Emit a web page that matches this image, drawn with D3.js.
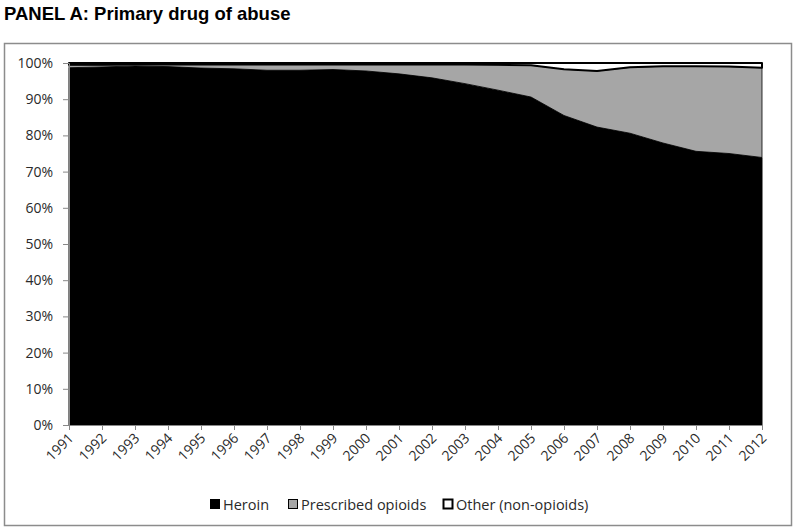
<!DOCTYPE html>
<html>
<head>
<meta charset="utf-8">
<script src="https://cdn.jsdelivr.net/npm/d3@7"></script>
<style>
  body { margin: 0; background: #fff; }
  svg { display: block; }
</style>
</head>
<body>
<svg width="800" height="530"></svg>
<script>
var years   = [1991, 1992, 1993, 1994, 1995, 1996, 1997, 1998, 1999, 2000, 2001,
               2002, 2003, 2004, 2005, 2006, 2007, 2008, 2009, 2010, 2011, 2012];
var heroin  = [98.7, 98.9, 99.2, 99.0, 98.6, 98.4, 98.0, 98.0, 98.2, 97.8, 97.0,
               95.9, 94.3, 92.5, 90.6, 85.5, 82.3, 80.6, 77.9, 75.6, 75.0, 73.9];
var other   = [0.5, 0.5, 0.4, 0.4, 0.4, 0.4, 0.4, 0.4, 0.4, 0.4, 0.4,
               0.4, 0.4, 0.5, 0.6, 1.7, 2.2, 1.2, 0.9, 0.9, 1.0, 1.3];
var opioids = heroin.map(function(h, i) { return 100 - h - other[i]; });
var yTicks  = [0, 10, 20, 30, 40, 50, 60, 70, 80, 90, 100];
var seriesNames = ['Heroin', 'Prescribed opioids', 'Other (non-opioids)'];
var colors  = ['#000000', '#a6a6a6', '#ffffff'];

var svg = d3.select('svg');

svg.append('text')
   .attr('x', 4).attr('y', 20)
   .style('font-family', 'Liberation Sans, Arial, sans-serif')
   .style('font-weight', 'bold')
   .style('font-size', '18.5px')
   .text('PANEL A: Primary drug of abuse');

svg.append('rect')
   .attr('x', 4.5).attr('y', 43.5)
   .attr('width', 787).attr('height', 482)
   .attr('fill', 'none').attr('stroke', '#8c8c8c').attr('stroke-width', 1.5);

var x = d3.scaleLinear().domain([1991, 2012]).range([69, 762]);
var y = d3.scaleLinear().domain([0, 100]).range([425, 63]);

var table = years.map(function(yr, i) {
  return { year: yr, heroin: heroin[i], opioids: opioids[i], other: other[i] };
});
var stack = d3.stack().keys(['heroin', 'opioids', 'other'])(table);

var area = d3.area()
  .x(function(d) { return x(d.data.year); })
  .y0(function(d) { return y(d[0]); })
  .y1(function(d) { return y(d[1]); });

var widths  = [1, 0.8, 2];
svg.selectAll('path.layer')
   .data(stack)
   .enter()
   .append('path')
   .attr('class', 'layer')
   .attr('d', area)
   .attr('fill', function(d, i) { return colors[i]; })
   .attr('stroke', '#000')
   .attr('stroke-width', function(d, i) { return widths[i]; })
   .attr('stroke-linejoin', 'round');

var tickFont = 'Open Sans, Lato, sans-serif';

var yAxis = svg.append('g')
   .attr('transform', 'translate(69,0)')
   .call(d3.axisLeft(y).tickValues(yTicks).tickSize(6).tickPadding(10)
         .tickFormat(function(d) { return d + '%'; }));
yAxis.select('.domain').attr('stroke', '#888');
yAxis.selectAll('line').attr('stroke', '#888');
yAxis.selectAll('text')
     .style('font-family', tickFont).style('font-size', '14px').attr('fill', '#2a2a2a');

var xAxis = svg.append('g')
   .attr('transform', 'translate(0,425)')
   .call(d3.axisBottom(x).tickValues(years).tickSize(5)
         .tickFormat(d3.format('d')));
xAxis.select('.domain').attr('stroke', '#888');
xAxis.selectAll('line').attr('stroke', '#888');
xAxis.selectAll('text')
     .style('font-family', tickFont).style('font-size', '14px').attr('fill', '#2a2a2a')
     .attr('text-anchor', 'end')
     .attr('dy', null).attr('y', 0)
     .attr('transform', 'translate(5,14) rotate(-45)');

var legendX = [210, 288, 443];
var legend = svg.selectAll('g.legend')
   .data(seriesNames)
   .enter()
   .append('g')
   .attr('class', 'legend')
   .attr('transform', function(d, i) { return 'translate(' + legendX[i] + ',499)'; });
legend.append('rect')
   .attr('x', 0.5).attr('y', 0.5).attr('width', 9).attr('height', 9)
   .attr('fill', function(d, i) { return colors[i]; })
   .attr('stroke', '#000')
   .attr('stroke-width', function(d, i) { return i == 2 ? 2 : 1; });
legend.append('text')
   .attr('x', 13).attr('y', 10.5)
   .style('font-family', tickFont).style('font-size', '14.5px').attr('fill', '#2a2a2a')
   .text(function(d) { return d; });
</script>
</body>
</html>
